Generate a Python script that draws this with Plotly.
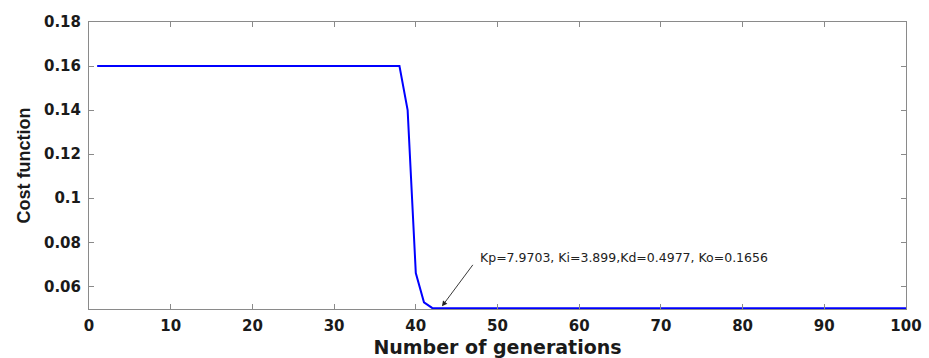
import plotly.graph_objects as go

generations = list(range(1, 101))
cost = ([0.16] * 38 + [0.14, 0.066, 0.0527, 0.0502] + [0.0500] * 58)

x_ticks = [0, 10, 20, 30, 40, 50, 60, 70, 80, 90, 100]
y_ticks = [0.06, 0.08, 0.1, 0.12, 0.14, 0.16, 0.18]
y_tick_text = ["0.06", "0.08", "0.1", "0.12", "0.14", "0.16", "0.18"]
note = "Kp=7.9703, Ki=3.899,Kd=0.4977, Ko=0.1656"

tick_font = dict(family="DejaVu Sans", size=15, color="#1a1a1a", weight="bold")

fig = go.Figure()
fig.add_trace(go.Scatter(x=generations, y=cost, mode="lines",
                         line=dict(color="#0000ff", width=2), showlegend=False))

axis_common = dict(showline=True, linecolor="#8a8a8a", linewidth=1, mirror="ticks",
                   ticks="inside", ticklen=5, tickcolor="#8a8a8a", showgrid=False,
                   zeroline=False, automargin=False, tickfont=tick_font)

fig.update_xaxes(range=[0, 100], tickvals=x_ticks, ticklabelstandoff=3,
                 title=dict(text="Number of generations", standoff=10,
                            font=dict(family="DejaVu Sans", size=19, color="#1a1a1a",
                                      weight="bold")),
                 **axis_common)
fig.update_yaxes(range=[0.0497, 0.18], tickvals=y_ticks, ticktext=y_tick_text,
                 ticklabelstandoff=4,
                 title=dict(text="Cost function", standoff=8,
                            font=dict(family="Liberation Sans", size=18, color="#1a1a1a",
                                      weight="bold")),
                 **axis_common)

# arrow
fig.add_annotation(x=43.2, y=0.0509, text="", showarrow=True, arrowhead=2,
                   arrowsize=1.2, arrowwidth=0.9, arrowcolor="#222222",
                   ax=32, ay=-43)
# label
fig.add_annotation(x=47.6, y=0.0731, text=note, showarrow=False, xanchor="left",
                   yanchor="middle",
                   font=dict(family="DejaVu Sans", size=12.5, color="#222222"))

fig.update_layout(width=929, height=358, margin=dict(l=89, r=23, t=22, b=49),
                  plot_bgcolor="white", paper_bgcolor="white")

fig.write_html("out.html", config={"displayModeBar": False},
               post_script="document.body.style.margin='0';document.body.style.overflow='hidden';")
